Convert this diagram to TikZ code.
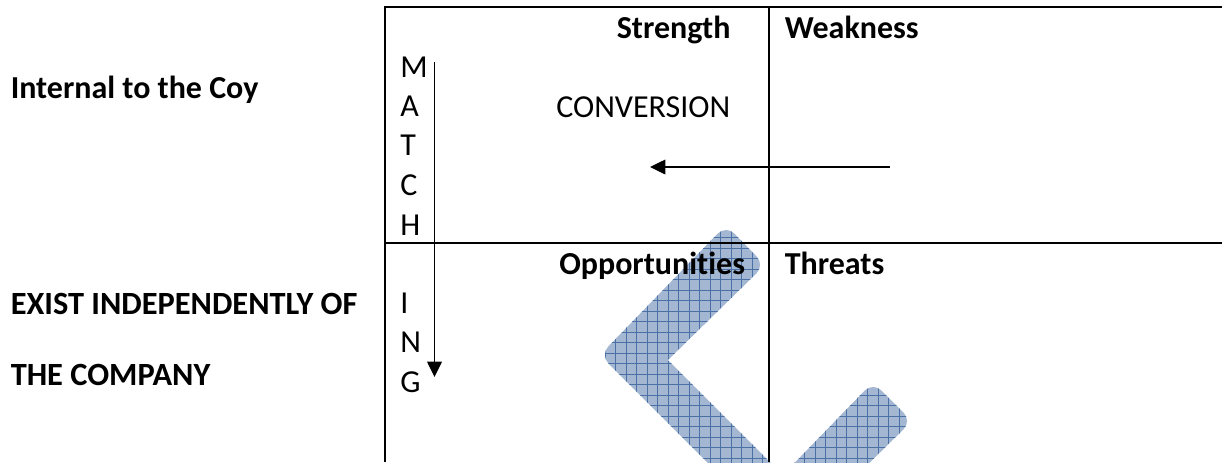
\documentclass[tikz,border=0pt]{standalone}
\usepackage{fontspec}
\setmainfont{Carlito}[Ligatures=NoCommon]
\usetikzlibrary{arrows.meta}
\definecolor{patfill}{HTML}{A3B6D2}
\definecolor{patline}{HTML}{4A70A6}
\tikzset{
  x=0.75pt,y=-0.75pt,
  tablerule/.style={line width=1.5pt,black},
  head/.style={anchor=base west,font=\fontsize{24}{28}\selectfont\bfseries,inner sep=0pt},
  headwide/.style={anchor=base west,font=\fontsize{24.3}{28}\selectfont\bfseries,inner sep=0pt},
  plain/.style={anchor=base west,font=\fontsize{24}{28}\selectfont,inner sep=0pt},
  flow/.style={line width=1.1pt,-{Triangle[length=11.5pt,width=11pt]}},
}
\begin{document}
\begin{tikzpicture}
\useasboundingbox (0,0) rectangle (1222,462);
% chevron pieces, filled and hatched
\begin{scope}
\clip (0,0) rectangle (1222,462);
\begin{scope}
\clip[rounded corners=9pt] (726,225) -- (765,265) [sharp corners] -- (668,360) -- (790,482) -- (727,482) [rounded corners=9pt] -- (600,355) -- cycle
  (873,382) -- (912,421) -- (850,482) -- (776,482) -- cycle;
\fill[patfill] (590,220) rectangle (920,470);
\foreach \k in {0,...,31} {
  \draw[patline,line width=0.5pt] ({594.5+10.5*\k},220) -- ({594.5+10.5*\k},470);
}
\foreach \k in {-12,...,11} {
  \draw[patline,line width=0.5pt] (590,{353+10.5*\k}) -- (920,{353+10.5*\k});
}
\end{scope}
\end{scope}
% table
\coordinate (tl) at (385,7);
\coordinate (tr) at (1222,7);
\coordinate (bl) at (385,462);
\coordinate (mt) at (769,7);
\coordinate (mb) at (769,462);
\coordinate (ml) at (385,242.5);
\coordinate (mr) at (1222,242.5);
\draw[tablerule] (bl) -- (tl) -- (tr);
\draw[tablerule] (mt) -- (mb);
\draw[tablerule] (ml) -- (mr);
% left labels
\node[head] (internal) at (10.5,98) {Internal to the Coy};
\node[headwide] (exist) at (10.5,314) {EXIST INDEPENDENTLY OF};
\node[headwide] (company) at (10.5,385) {THE COMPANY};
% quadrant labels
\node[head] (strength) at (616.5,38.5) {Strength};
\node[head] (weakness) at (784.5,38.5) {Weakness};
\node[head] (opps) at (559,274.5) {Opportunities};
\node[head] (threats) at (784.5,274.5) {Threats};
\node[plain] (conv) at (556,117) {CONVERSION};
% vertical word
\node[plain] (lm) at (400,77) {M};
\node[plain] (la) at (400,116) {A};
\node[plain] (lt) at (400,155) {T};
\node[plain] (lc) at (400,195) {C};
\node[plain] (lh) at (400,235) {H};
\node[plain] (li) at (400,313) {I};
\node[plain] (ln) at (400,352) {N};
\node[plain] (lg) at (400,392) {G};
% arrows
\coordinate (matchs) at (434.5,62);
\coordinate (matche) at (434.5,377);
\coordinate (convs) at (890,167);
\coordinate (conve) at (650,167);
\draw[flow] (matchs) -- (matche);
\draw[flow] (convs) -- (conve);
\end{tikzpicture}
\end{document}
